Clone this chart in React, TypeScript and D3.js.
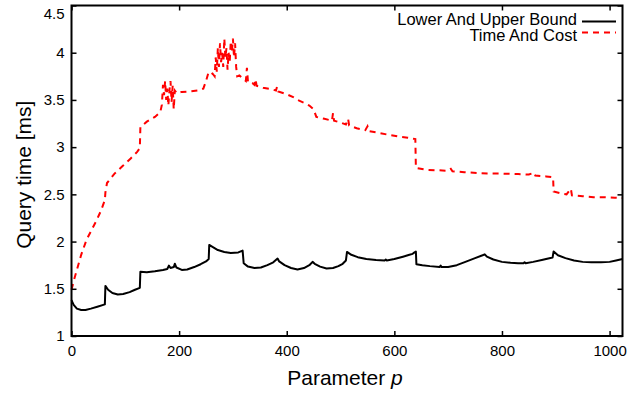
import {useEffect, useRef} from "react";
import * as d3 from "d3";

// Lower And Upper Bound (parameter p, query time ms)
const boundP = [0, 4, 10, 18, 26, 36, 48, 62, 63, 68, 76, 86, 96, 108, 118, 127, 128, 140, 155, 170, 178, 181, 184, 190, 192, 195, 205, 215, 228, 240, 250, 255, 256, 262, 272, 284, 296, 310, 318, 320, 328, 340, 352, 364, 375, 383, 386, 396, 408, 420, 432, 442, 448, 452, 462, 474, 486, 496, 504, 510, 512, 520, 532, 548, 566, 582, 584, 586, 600, 616, 628, 634, 636, 640, 641, 652, 666, 684, 686, 688, 700, 716, 732, 750, 764, 768, 772, 784, 800, 816, 830, 840, 842, 844, 858, 874, 886, 890, 894, 896, 904, 918, 934, 950, 966, 984, 1000, 1012, 1024];
const boundV = [1.38, 1.33, 1.29, 1.275, 1.275, 1.29, 1.31, 1.335, 1.53, 1.49, 1.455, 1.44, 1.445, 1.465, 1.49, 1.51, 1.68, 1.675, 1.685, 1.7, 1.71, 1.745, 1.72, 1.73, 1.765, 1.725, 1.7, 1.705, 1.73, 1.76, 1.79, 1.815, 1.965, 1.945, 1.91, 1.89, 1.88, 1.885, 1.905, 1.77, 1.735, 1.72, 1.725, 1.75, 1.78, 1.82, 1.79, 1.75, 1.72, 1.705, 1.72, 1.75, 1.785, 1.765, 1.735, 1.715, 1.72, 1.74, 1.765, 1.8, 1.89, 1.86, 1.835, 1.815, 1.805, 1.8, 1.81, 1.8, 1.815, 1.84, 1.86, 1.87, 1.88, 1.895, 1.76, 1.75, 1.74, 1.73, 1.745, 1.73, 1.73, 1.75, 1.785, 1.825, 1.855, 1.865, 1.84, 1.81, 1.785, 1.775, 1.77, 1.77, 1.78, 1.77, 1.785, 1.805, 1.82, 1.825, 1.83, 1.895, 1.855, 1.825, 1.8, 1.785, 1.78, 1.78, 1.785, 1.8, 1.815];

// Time And Cost
const costP = [0, 5, 10, 18, 28, 38, 47, 55, 62, 63, 66, 80, 95, 110, 122, 127, 128, 140, 155, 165, 168, 170, 172, 174, 176, 178, 180, 182, 184, 186, 188, 190, 192, 196, 205, 220, 235, 245, 250, 254, 256, 262, 266, 268, 270, 272, 274, 276, 278, 280, 282, 284, 286, 288, 290, 292, 294, 296, 298, 300, 302, 304, 306, 308, 312, 318, 324, 326, 328, 336, 340, 342, 344, 356, 370, 380, 382, 384, 400, 412, 420, 432, 442, 450, 455, 470, 484, 486, 488, 500, 510, 514, 516, 530, 546, 550, 552, 572, 590, 610, 625, 635, 639, 640, 660, 680, 700, 705, 708, 730, 758, 780, 800, 830, 850, 860, 862, 882, 895, 896, 910, 920, 928, 930, 950, 970, 990, 1010, 1024];
const costV = [1.49, 1.6, 1.7, 1.86, 2.02, 2.13, 2.23, 2.33, 2.44, 2.52, 2.62, 2.72, 2.8, 2.88, 2.95, 2.99, 3.21, 3.27, 3.32, 3.37, 3.45, 3.66, 3.55, 3.7, 3.5, 3.62, 3.44, 3.6, 3.7, 3.48, 3.65, 3.4, 3.6, 3.57, 3.585, 3.59, 3.6, 3.62, 3.7, 3.78, 3.76, 3.78, 3.75, 3.95, 3.8, 4.05, 3.85, 4.1, 3.9, 4.0, 3.85, 4.15, 3.95, 4.05, 3.82, 4.0, 3.9, 4.12, 4.0, 4.15, 3.95, 4.1, 3.85, 3.75, 3.76, 3.73, 3.7, 3.84, 3.69, 3.68, 3.66, 3.72, 3.65, 3.63, 3.615, 3.6, 3.64, 3.59, 3.56, 3.53, 3.5, 3.47, 3.44, 3.4, 3.32, 3.3, 3.28, 3.36, 3.28, 3.26, 3.24, 3.3, 3.23, 3.2, 3.18, 3.22, 3.17, 3.15, 3.13, 3.11, 3.1, 3.09, 3.085, 2.78, 2.76, 2.755, 2.75, 2.77, 2.745, 2.735, 2.725, 2.72, 2.72, 2.715, 2.71, 2.73, 2.7, 2.69, 2.68, 2.53, 2.51, 2.5, 2.56, 2.49, 2.48, 2.47, 2.47, 2.465, 2.46];

const xTicks = [0, 200, 400, 600, 800, 1000];
const yTicks = [1, 1.5, 2, 2.5, 3, 3.5, 4, 4.5];

const FONT = "'Liberation Sans', Arial, Helvetica, sans-serif";

const App = () => {
	const svgRef = useRef<SVGSVGElement>(null);

	useEffect(() => {
		const width = 639;
		const height = 394;
		const left = 71.5, right = 622.5, top = 5.5, bottom = 336;

		const x = d3.scaleLinear().domain([0, 1024]).range([left, right]);
		const y = d3.scaleLinear().domain([1, 4.5]).range([bottom, top]);

		const svg = d3.select(svgRef.current).attr("width", width).attr("height", height);
		svg.selectAll("*").remove();

		const path = d3.line();
		const bound = boundP.map((p, i) => [x(p), y(boundV[i])] as [number, number]);
		const cost = costP.map((p, i) => [x(p), y(costV[i])] as [number, number]);

		svg.append("path")
			.attr("d", path(cost))
			.attr("fill", "none")
			.attr("stroke", "#ff0000")
			.attr("stroke-width", 2)
			.attr("stroke-dasharray", "6,5");

		svg.append("path")
			.attr("d", path(bound))
			.attr("fill", "none")
			.attr("stroke", "#000")
			.attr("stroke-width", 2)
			.attr("stroke-linejoin", "round");

		// ticks pointing inward on all four sides
		const styleAxis = (g: d3.Selection<SVGGElement, unknown, null, undefined>) => {
			g.select(".domain").remove();
			g.selectAll(".tick line").attr("stroke", "#000").attr("stroke-width", 1.5);
			g.selectAll(".tick text").attr("fill", "#000").attr("font-size", 15).attr("font-family", FONT);
		};

		svg.append("g")
			.attr("transform", `translate(0,${bottom})`)
			.call(d3.axisBottom(x).tickValues(xTicks).tickSize(-5).tickPadding(9).tickFormat((d) => String(d)))
			.call(styleAxis);
		svg.append("g")
			.attr("transform", `translate(0,${top})`)
			.call(d3.axisTop(x).tickValues(xTicks).tickSize(-5).tickFormat(() => ""))
			.call(styleAxis);
		const yAxis = svg.append("g")
			.attr("transform", `translate(${left},0)`)
			.call(d3.axisLeft(y).tickValues(yTicks).tickSize(-5).tickPadding(7).tickFormat((d) => String(d)))
			.call(styleAxis);
		// top label sits a little lower so it stays inside the picture
		yAxis.selectAll<SVGTextElement, number>(".tick text")
			.filter((d) => d === 4.5)
			.attr("y", 8);
		svg.append("g")
			.attr("transform", `translate(${right},0)`)
			.call(d3.axisRight(y).tickValues(yTicks).tickSize(-5).tickFormat(() => ""))
			.call(styleAxis);

		svg.append("rect")
			.attr("x", left)
			.attr("y", top)
			.attr("width", right - left)
			.attr("height", bottom - top)
			.attr("fill", "none")
			.attr("stroke", "#000")
			.attr("stroke-width", 2);

		// axis titles
		svg.append("text")
			.attr("x", 345)
			.attr("y", 385)
			.attr("text-anchor", "middle")
			.attr("font-family", FONT)
			.attr("font-size", 21)
			.call((t) => {
				t.append("tspan").text("Parameter ");
				t.append("tspan").attr("font-style", "italic").text("p");
			});

		svg.append("text")
			.attr("transform", `translate(31,${(top + bottom) / 2 + 4}) rotate(-90)`)
			.attr("text-anchor", "middle")
			.attr("font-family", FONT)
			.attr("font-size", 21)
			.text("Query time [ms]");

		// legend
		const legend = [
			{label: "Lower And Upper Bound", color: "#000", dash: null},
			{label: "Time And Cost", color: "#ff0000", dash: "6,5"},
		];
		legend.forEach((d, i) => {
			const yy = 21.5 + i * 11;
			svg.append("text")
				.attr("x", 577)
				.attr("y", 25 + i * 15.5)
				.attr("text-anchor", "end")
				.attr("font-family", FONT)
				.attr("font-size", 16.5)
				.text(d.label);
			svg.append("line")
				.attr("x1", 582)
				.attr("x2", 616)
				.attr("y1", yy)
				.attr("y2", yy)
				.attr("stroke", d.color)
				.attr("stroke-width", 2)
				.attr("stroke-dasharray", d.dash);
		});
	}, []);

	return (
		<div style={{position: "absolute", left: 0, top: 0, width: 639, height: 394, background: "#fff"}}>
			<svg ref={svgRef} style={{display: "block"}}></svg>
		</div>
	);
};

export default App;
